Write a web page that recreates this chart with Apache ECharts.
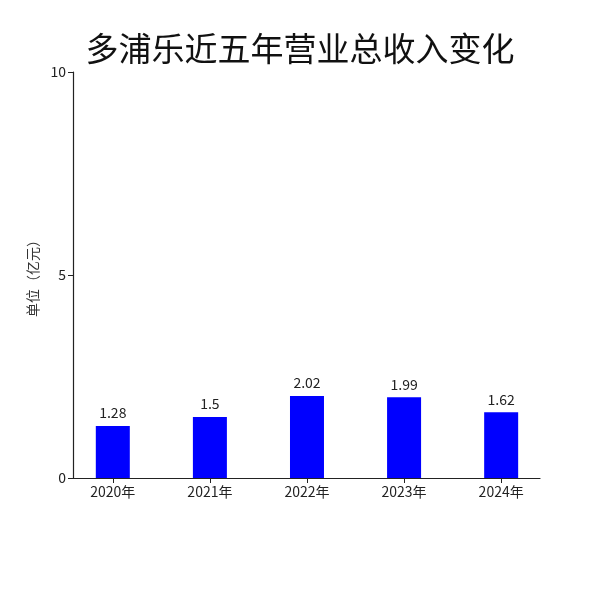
<!DOCTYPE html>
<html>
<head>
<meta charset="utf-8">
<script src="https://cdn.jsdelivr.net/npm/echarts@6/dist/echarts.min.js"></script>
<style>html,body{margin:0;padding:0;background:#fff}#c{width:600px;height:600px}</style>
</head>
<body>
<div id="c"></div>
<script>
const categories = ['2020年', '2021年', '2022年', '2023年', '2024年'];
const revenue = [1.28, 1.5, 2.02, 1.99, 1.62];
const yTicks = [0, 5, 10];
const titleText = '多浦乐近五年营业总收入变化';
const yName = '单位（亿元）';

const chart = echarts.init(document.getElementById('c'));
const font = '"Noto Sans CJK SC", "Noto Sans", sans-serif';
chart.setOption({
  backgroundColor: '#fff',
  animation: false,
  title: {
    text: titleText, left: 'center', top: 27,
    textStyle: { fontSize: 33, fontWeight: 'normal', color: '#111', fontFamily: font }
  },
  grid: { left: 73, right: 60, top: 72, bottom: 122 },
  xAxis: {
    type: 'value', min: -0.41, max: 4.4,
    splitLine: { show: false },
    axisLine: { show: true, onZero: false, lineStyle: { color: '#222', width: 1.2 } },
    axisTick: { show: true, customValues: categories.map((c, i) => i), length: 5, lineStyle: { color: '#222' } },
    axisLabel: {
      customValues: categories.map((c, i) => i),
      formatter: v => categories[Math.round(v)],
      fontSize: 14, color: '#222', margin: 7, fontFamily: font
    }
  },
  yAxis: {
    type: 'value', min: 0, max: 10, interval: 5,
    name: yName, nameLocation: 'middle', nameGap: 26, nameRotate: 90,
    nameTextStyle: { fontSize: 14, color: '#333', fontFamily: font },
    splitLine: { show: false },
    axisLine: { show: true, onZero: false, lineStyle: { color: '#222', width: 1.2 } },
    axisTick: { show: true, length: 5, lineStyle: { color: '#222' } },
    axisLabel: { fontSize: 14, color: '#222', margin: 7, fontFamily: font,
      customValues: yTicks }
  },
  series: [{
    type: 'bar',
    data: revenue.map((v, i) => [i, v]),
    barWidth: 34,
    itemStyle: { color: '#0000ff' },
    label: { show: true, position: 'top', distance: 6, fontSize: 14, color: '#222', fontFamily: font }
  }]
});
</script>
</body>
</html>
